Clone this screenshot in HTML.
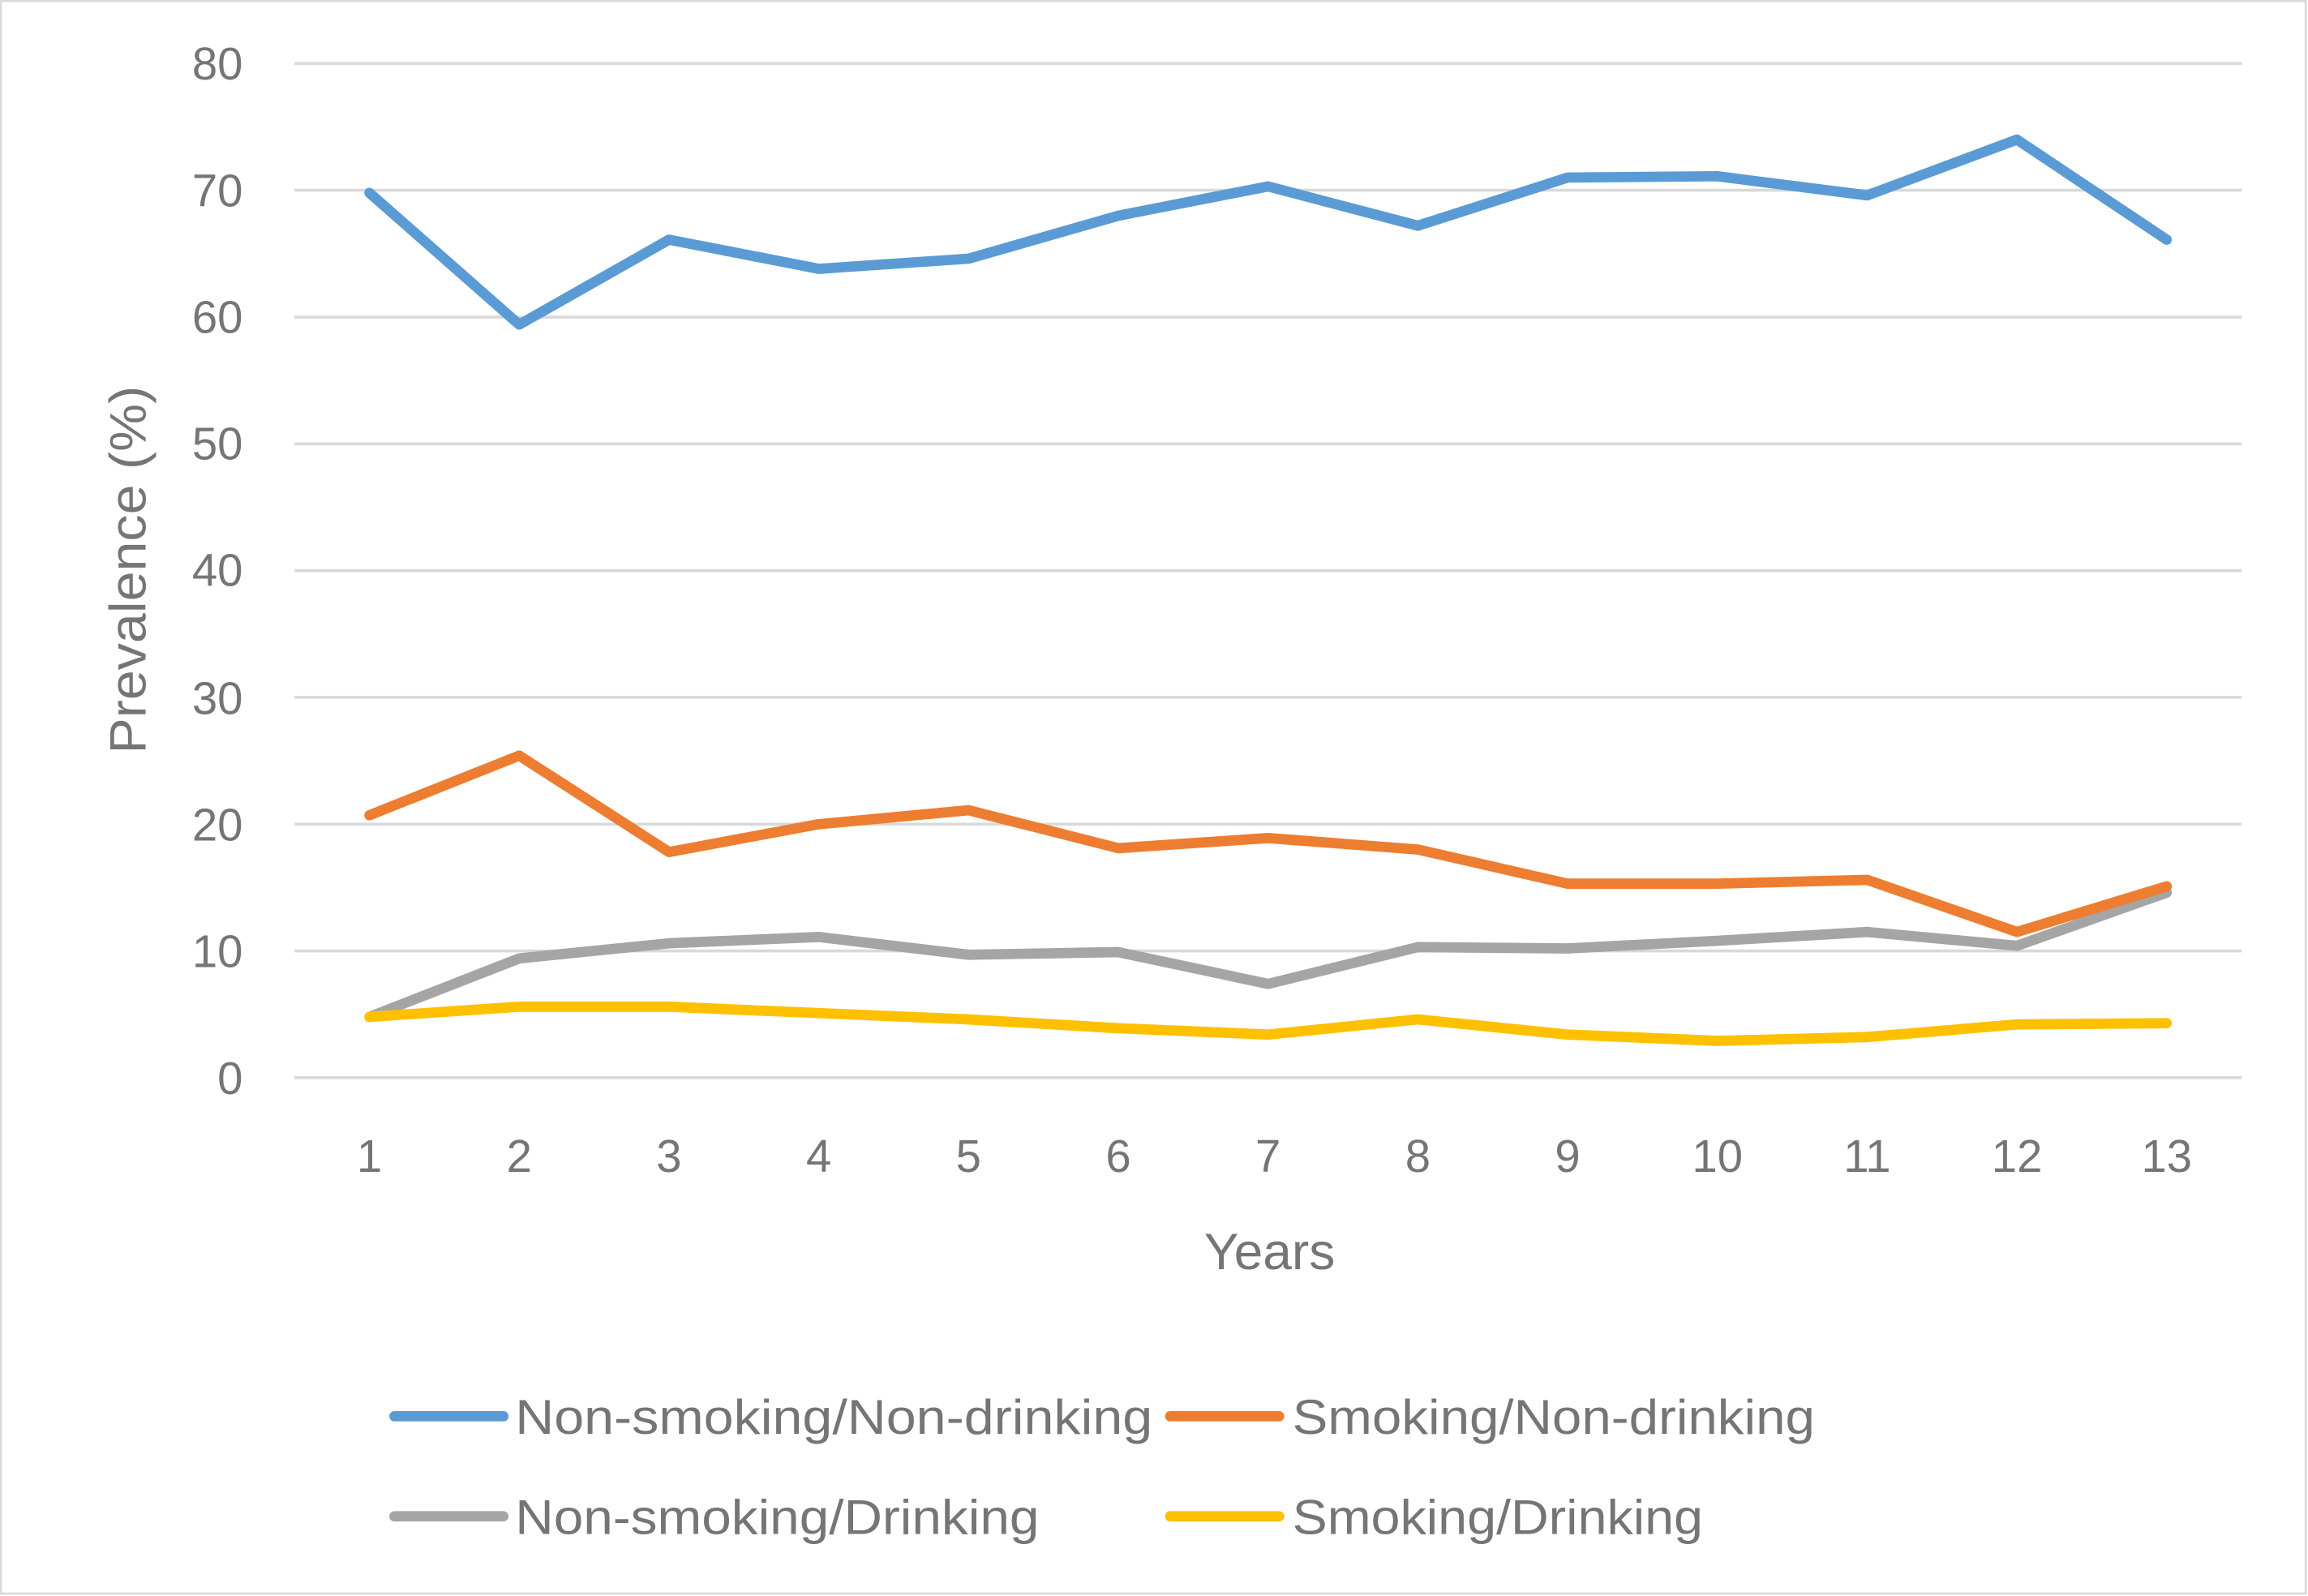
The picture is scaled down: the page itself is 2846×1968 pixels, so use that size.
<!DOCTYPE html>
<html><head><meta charset="utf-8"><style>
html,body{margin:0;padding:0;background:#fff;}
svg{display:block;}
text{font-family:"Liberation Sans",sans-serif;fill:#757575;}
</style></head><body>
<svg width="2846" height="1968" viewBox="0 0 1568 1084" xmlns="http://www.w3.org/2000/svg">
<rect x="0.5" y="0.5" width="1566" height="1082" fill="#fff" stroke="#d9d9d9" stroke-width="1.5"/>
<g stroke="#d9d9d9" stroke-width="2">
<line x1="200" x2="1523" y1="43" y2="43"/>
<line x1="200" x2="1523" y1="129.1" y2="129.1"/>
<line x1="200" x2="1523" y1="215.3" y2="215.3"/>
<line x1="200" x2="1523" y1="301.4" y2="301.4"/>
<line x1="200" x2="1523" y1="387.5" y2="387.5"/>
<line x1="200" x2="1523" y1="473.6" y2="473.6"/>
<line x1="200" x2="1523" y1="559.8" y2="559.8"/>
<line x1="200" x2="1523" y1="645.9" y2="645.9"/>
<line x1="200" x2="1523" y1="732" y2="732"/>
</g>
<g font-size="31" text-anchor="end">
<text x="165" y="54">80</text>
<text x="165" y="140">70</text>
<text x="165" y="226">60</text>
<text x="165" y="312">50</text>
<text x="165" y="398">40</text>
<text x="165" y="485">30</text>
<text x="165" y="571">20</text>
<text x="165" y="657">10</text>
<text x="165" y="743">0</text>
</g>
<g font-size="31" text-anchor="middle">
<text x="251" y="796">1</text><text x="352.75" y="796">2</text><text x="454.5" y="796">3</text>
<text x="556.25" y="796">4</text><text x="658" y="796">5</text><text x="759.75" y="796">6</text>
<text x="861.5" y="796">7</text><text x="963.25" y="796">8</text><text x="1065" y="796">9</text>
<text x="1166.75" y="796">10</text><text x="1268.5" y="796">11</text><text x="1370.25" y="796">12</text>
<text x="1472" y="796">13</text>
</g>
<text x="818" y="862" font-size="35" textLength="89" lengthAdjust="spacingAndGlyphs">Years</text>
<text transform="translate(99,512) rotate(-90)" font-size="35" textLength="250" lengthAdjust="spacingAndGlyphs">Prevalence (%)</text>
<g fill="none" stroke-width="7" stroke-linejoin="round" stroke-linecap="round">
<polyline stroke="#A5A5A5" points="251,690.7 352.75,651 454.5,640.7 556.25,636.4 658,648.5 759.75,646.7 861.5,668.3 963.25,643.3 1065,644.2 1166.75,639 1268.5,633 1370.25,642.4 1472,606.3"/>
<polyline stroke="#FFC000" points="251,690.7 352.75,683.8 454.5,683.8 556.25,688.1 658,692.4 759.75,698.4 861.5,702.7 963.25,692.4 1065,702.7 1166.75,707 1268.5,704.4 1370.25,695.8 1472,695"/>
<polyline stroke="#ED7D31" points="251,553.7 352.75,513.2 454.5,578.7 556.25,559.8 658,550.3 759.75,576.1 861.5,569.2 963.25,577 1065,600.2 1166.75,600.2 1268.5,597.6 1370.25,633 1472,602"/>
<polyline stroke="#5B9BD5" points="251,130.9 352.75,220.4 454.5,162.7 556.25,182.5 658,175.6 759.75,146.4 861.5,126.5 963.25,153.2 1065,120.5 1166.75,119.6 1268.5,132.6 1370.25,94.7 1472,162.7"/>
</g>
<g stroke-width="7" stroke-linecap="round">
<line x1="268" x2="342" y1="962" y2="962" stroke="#5B9BD5"/>
<line x1="795" x2="869" y1="962" y2="962" stroke="#ED7D31"/>
<line x1="268" x2="342" y1="1030" y2="1030" stroke="#A5A5A5"/>
<line x1="795" x2="869" y1="1030" y2="1030" stroke="#FFC000"/>
</g>
<g font-size="33" lengthAdjust="spacingAndGlyphs">
<text x="350" y="974" textLength="433" lengthAdjust="spacingAndGlyphs">Non-smoking/Non-drinking</text>
<text x="878" y="974" textLength="355" lengthAdjust="spacingAndGlyphs">Smoking/Non-drinking</text>
<text x="350" y="1042" textLength="356" lengthAdjust="spacingAndGlyphs">Non-smoking/Drinking</text>
<text x="878" y="1042" textLength="279" lengthAdjust="spacingAndGlyphs">Smoking/Drinking</text>
</g>
</svg>
</body></html>
